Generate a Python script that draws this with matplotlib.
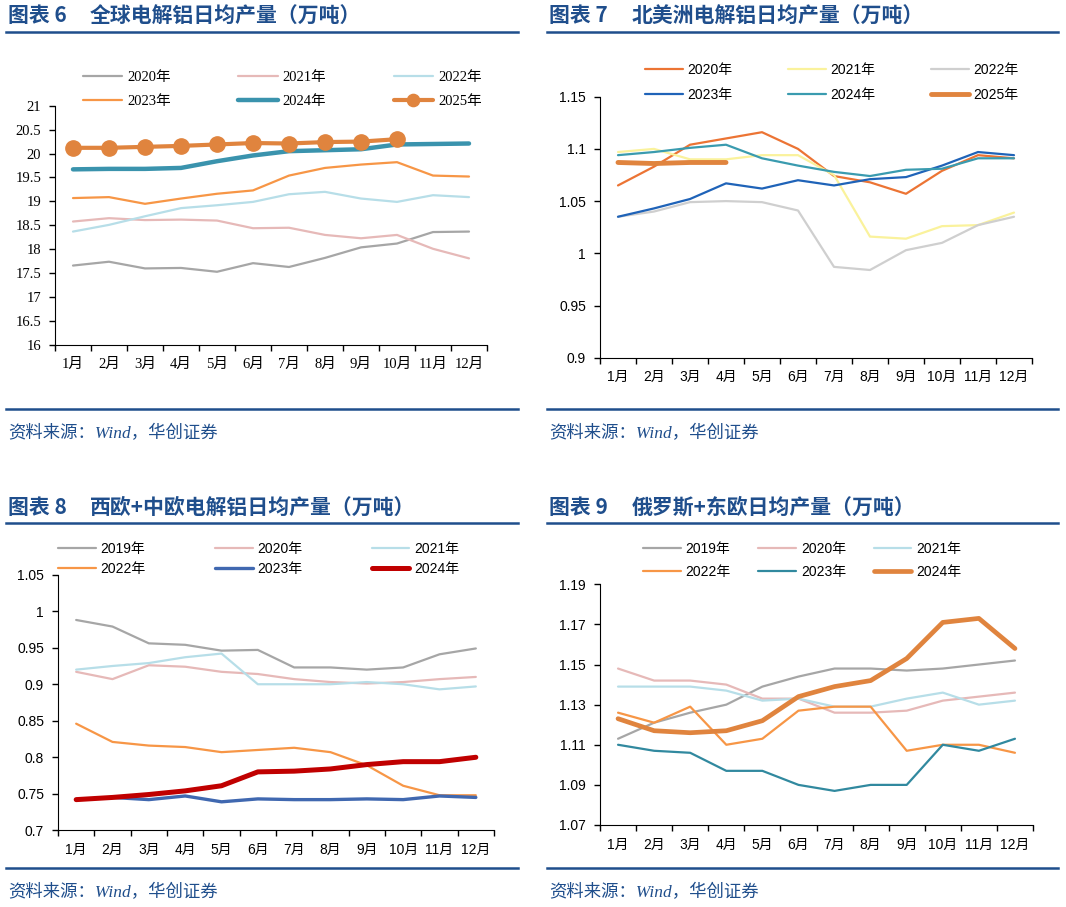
import numpy as np
import matplotlib
matplotlib.use("Agg")
from matplotlib import pyplot as plt
from matplotlib.lines import Line2D

# ==============================
# data (万吨 / 日)
# ==============================
months = ["1月", "2月", "3月", "4月", "5月", "6月",
          "7月", "8月", "9月", "10月", "11月", "12月"]

# 图表6 全球
g_years = ["2020年", "2021年", "2022年", "2023年", "2024年", "2025年"]
g_2020 = [17.66, 17.74, 17.60, 17.61, 17.53, 17.71, 17.63, 17.82, 18.04, 18.12, 18.36, 18.37]
g_2021 = [18.58, 18.65, 18.61, 18.62, 18.60, 18.44, 18.45, 18.30, 18.23, 18.30, 18.01, 17.81]
g_2022 = [18.37, 18.51, 18.69, 18.86, 18.92, 18.99, 19.15, 19.20, 19.06, 18.99, 19.13, 19.09]
g_2023 = [19.07, 19.09, 18.95, 19.06, 19.16, 19.23, 19.54, 19.70, 19.77, 19.82, 19.54, 19.52]
g_2024 = [19.67, 19.68, 19.68, 19.70, 19.84, 19.96, 20.05, 20.07, 20.09, 20.19, 20.20, 20.21]
g_2025 = [20.12, 20.12, 20.14, 20.16, 20.19, 20.22, 20.21, 20.24, 20.25, 20.30]

# 图表7 北美洲
na_years = ["2020年", "2021年", "2022年", "2023年", "2024年", "2025年"]
na_2020 = [1.065, 1.083, 1.104, 1.110, 1.116, 1.100, 1.074, 1.068, 1.057, 1.079, 1.094, 1.091]
na_2021 = [1.097, 1.100, 1.090, 1.090, 1.094, 1.094, 1.075, 1.016, 1.014, 1.026, 1.027, 1.039]
na_2022 = [1.035, 1.040, 1.049, 1.050, 1.049, 1.041, 0.987, 0.984, 1.003, 1.010, 1.027, 1.035]
na_2023 = [1.035, 1.043, 1.052, 1.067, 1.062, 1.070, 1.065, 1.071, 1.073, 1.084, 1.097, 1.094]
na_2024 = [1.094, 1.097, 1.101, 1.104, 1.091, 1.084, 1.078, 1.074, 1.080, 1.081, 1.091, 1.091]
na_2025 = [1.087, 1.086, 1.087, 1.087]

# 图表8 西欧+中欧
we_years = ["2019年", "2020年", "2021年", "2022年", "2023年", "2024年"]
we_2019 = [0.988, 0.979, 0.956, 0.954, 0.946, 0.947, 0.923, 0.923, 0.920, 0.923, 0.941, 0.949]
we_2020 = [0.917, 0.907, 0.926, 0.924, 0.917, 0.914, 0.907, 0.903, 0.901, 0.903, 0.907, 0.910]
we_2021 = [0.920, 0.925, 0.929, 0.937, 0.942, 0.900, 0.900, 0.900, 0.903, 0.900, 0.893, 0.897]
we_2022 = [0.846, 0.821, 0.816, 0.814, 0.807, 0.810, 0.813, 0.807, 0.789, 0.761, 0.748, 0.748]
we_2023 = [0.742, 0.745, 0.742, 0.747, 0.739, 0.743, 0.742, 0.742, 0.743, 0.742, 0.747, 0.745]
we_2024 = [0.742, 0.745, 0.749, 0.754, 0.761, 0.780, 0.781, 0.784, 0.790, 0.794, 0.794, 0.800]

# 图表9 俄罗斯+东欧
ru_years = ["2019年", "2020年", "2021年", "2022年", "2023年", "2024年"]
ru_2019 = [1.113, 1.121, 1.126, 1.130, 1.139, 1.144, 1.148, 1.148, 1.147, 1.148, 1.150, 1.152]
ru_2020 = [1.148, 1.142, 1.142, 1.140, 1.133, 1.133, 1.126, 1.126, 1.127, 1.132, 1.134, 1.136]
ru_2021 = [1.139, 1.139, 1.139, 1.137, 1.132, 1.133, 1.129, 1.129, 1.133, 1.136, 1.130, 1.132]
ru_2022 = [1.126, 1.121, 1.129, 1.110, 1.113, 1.127, 1.129, 1.129, 1.107, 1.110, 1.110, 1.106]
ru_2023 = [1.110, 1.107, 1.106, 1.097, 1.097, 1.090, 1.087, 1.090, 1.090, 1.110, 1.107, 1.113]
ru_2024 = [1.123, 1.117, 1.116, 1.117, 1.122, 1.134, 1.139, 1.142, 1.153, 1.171, 1.173, 1.158]

# ==============================
# styles
# ==============================
BLUE = "#1F4E8C"
SERIF = ["Liberation Serif", "Noto Sans CJK SC"]
SANS = ["Liberation Sans", "Noto Sans CJK SC"]
CJK = ["Noto Sans CJK SC", "DejaVu Sans"]

W, H = 1066, 907
fig = plt.figure(figsize=(W / 100, H / 100), dpi=100)


def fx(px):
    return px / W


def fy(py):
    return 1 - py / H


def setup(ax, yticks, family, fs):
    ax.set_xlim(-0.5, 11.5)
    ax.set_ylim(yticks[0], yticks[-1])
    ax.set_yticks(yticks)
    ax.set_yticklabels([f"{round(v, 3):g}" for v in yticks], family=family, fontsize=fs)
    ax.set_xticks(np.arange(-0.5, 12, 1))
    ax.set_xticklabels([])
    ax.set_xticks(np.arange(12), minor=True)
    ax.set_xticklabels(months, minor=True, family=family, fontsize=fs)
    ax.tick_params(axis="x", which="minor", length=0, pad=9)
    ax.tick_params(axis="x", which="major", length=4, width=1)
    ax.tick_params(axis="y", length=4, width=1, pad=6)
    for s in ["top", "right"]:
        ax.spines[s].set_visible(False)
    ax.patch.set_alpha(0)


def draw(ax, data, labels, colors, widths, family, fs, leg_xy, colspace, rowspace, marker=None):
    handles = []
    for i, (vals, lab, c, lw) in enumerate(zip(data, labels, colors, widths)):
        kw = {}
        if marker is not None and i == marker:
            kw = dict(marker="o", markersize=11)
        h, = ax.plot(np.arange(len(vals)), vals, color=c, lw=lw, label=lab,
                     solid_capstyle="round", solid_joinstyle="round", **kw)
        handles.append(h)
    # legend rows: first three years, then the last three
    order = [0, 3, 1, 4, 2, 5]
    ax.legend([handles[k] for k in order], [labels[k] for k in order],
              ncol=3, loc="upper left", bbox_to_anchor=(fx(leg_xy[0]), fy(leg_xy[1])),
              bbox_transform=fig.transFigure, frameon=False, borderpad=0,
              borderaxespad=0, handlelength=2.7, handletextpad=0.35,
              columnspacing=colspace, labelspacing=rowspace, markerscale=0.8,
              prop={"family": family, "size": fs})


def frame(x0, x1, title_no, title, y_title, y_top, y_bot, y_src, x_title):
    fig.text(fx(x0 + 2), fy(y_title), title_no, family=CJK, fontsize=15,
             fontweight="bold", color=BLUE, va="center")
    fig.text(fx(x_title), fy(y_title), title, family=CJK, fontsize=15,
             fontweight="bold", color=BLUE, va="center")
    fig.add_artist(Line2D([fx(x0), fx(x1)], [fy(y_top), fy(y_top)], color=BLUE, lw=1.8))
    fig.add_artist(Line2D([fx(x0), fx(x1)], [fy(y_bot), fy(y_bot)], color=BLUE, lw=1.8))
    fig.text(fx(x0 + 2), fy(y_src), "资料来源：Wind，华创证券", family=SERIF,
             style="italic", fontsize=12.5, color=BLUE, va="center")


# ==============================
# 图表6
# ==============================
ax1 = fig.add_axes([fx(55), fy(345), fx(487 - 55), (345 - 105.7) / H])
setup(ax1, [16, 16.5, 17, 17.5, 18, 18.5, 19, 19.5, 20, 20.5, 21], SERIF, 10.5)
draw(ax1, [g_2020, g_2021, g_2022, g_2023, g_2024, g_2025], g_years,
     ["#A6A6A6", "#E6B9B8", "#B7DEE8", "#F79646", "#3A93AD", "#E0843E"],
     [1.6, 1.6, 1.6, 1.6, 3.2, 3.0], SERIF, 10.5, (83, 71), 4.6, 0.75, marker=5)
frame(6, 518, "图表 6", "全球电解铝日均产量（万吨）", 16, 32, 409, 434, 90)

# ==============================
# 图表7
# ==============================
ax2 = fig.add_axes([fx(600), fy(357.7), fx(1032 - 600), (357.7 - 96.7) / H])
setup(ax2, [0.9, 0.95, 1.0, 1.05, 1.1, 1.15], SANS, 10)
draw(ax2, [na_2020, na_2021, na_2022, na_2023, na_2024, na_2025], na_years,
     ["#EC7434", "#FAF29C", "#CFCFCF", "#1F63B8", "#3A9BAF", "#E0843E"],
     [1.6, 1.6, 1.6, 1.6, 1.6, 3.5], SANS, 10, (645, 63), 4.0, 0.8)
frame(547, 1058, "图表 7", "北美洲电解铝日均产量（万吨）", 16, 32, 409, 434, 632)

# ==============================
# 图表8
# ==============================
ax3 = fig.add_axes([fx(58), fy(830.3), fx(494 - 58), (830.3 - 574.7) / H])
setup(ax3, [0.7, 0.75, 0.8, 0.85, 0.9, 0.95, 1.0, 1.05], SANS, 10)
draw(ax3, [we_2019, we_2020, we_2021, we_2022, we_2023, we_2024], we_years,
     ["#A6A6A6", "#E6B9B8", "#B7DEE8", "#F79646", "#4068B0", "#C00000"],
     [1.6, 1.6, 1.6, 1.6, 2.4, 3.6], SANS, 10, (58, 542), 5.0, 0.45)
frame(6, 518, "图表 8", "西欧+中欧电解铝日均产量（万吨）", 507, 523, 868, 893, 90)

# ==============================
# 图表9
# ==============================
ax4 = fig.add_axes([fx(600), fy(825), fx(1033 - 600), (825 - 584.3) / H])
setup(ax4, [1.07, 1.09, 1.11, 1.13, 1.15, 1.17, 1.19], SANS, 10)
draw(ax4, [ru_2019, ru_2020, ru_2021, ru_2022, ru_2023, ru_2024], ru_years,
     ["#A6A6A6", "#E6B9B8", "#B7DEE8", "#F79646", "#31899F", "#E0843E"],
     [1.6, 1.6, 1.6, 1.6, 1.6, 3.4], SANS, 10, (643, 542), 2.0, 0.65)
frame(547, 1058, "图表 9", "俄罗斯+东欧日均产量（万吨）", 507, 523, 868, 893, 632)

fig.savefig("out.png", dpi=100)
